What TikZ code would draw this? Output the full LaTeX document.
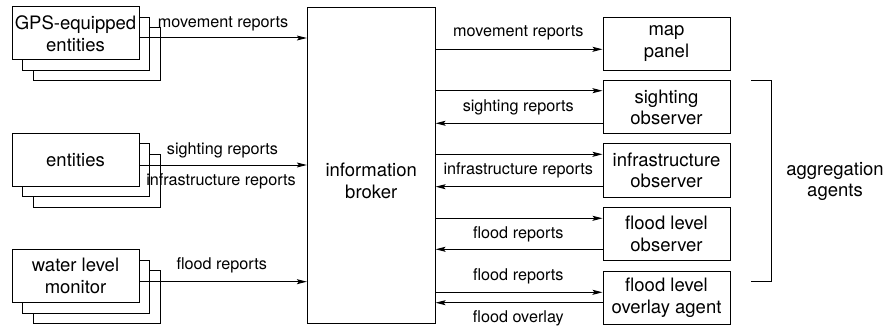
\documentclass[tikz,border=0pt]{standalone}
\usepackage{fontspec}
\setmainfont{TeX Gyre Heros}
\usetikzlibrary{arrows.meta,calc}
\begin{document}
\begin{tikzpicture}[x=1pt,y=-1pt,
  box/.style={draw, line width=1pt, fill=white, minimum width=127pt, minimum height=53pt, inner sep=0pt, align=center, font=\fontsize{18.5}{21.5}\selectfont},
  txt/.style={inner sep=0pt, align=center, font=\fontsize{18.5}{21.5}\selectfont},
  lbl/.style={inner sep=0pt, font=\fontsize{16.2}{19}\selectfont},
  arr/.style={line width=1pt, -{Stealth[length=10pt,width=5pt,inset=2pt]}},
  plain/.style={line width=1pt}]
\useasboundingbox (0,0) rectangle (890,331);

% left stacks
\node[box] (gpsC) at (96.5,54) {};
\node[box] (gpsB) at (86,43.8) {};
\node[box] (gps) at (75.5,33.5) {GPS-equipped\\entities};

\node[box] (entC) at (96.5,181) {};
\node[box] (entB) at (86,170.3) {};
\node[box] (ent) at (75.5,160) {entities};

\node[box] (watC) at (96.5,297) {};
\node[box] (watB) at (86,286.5) {};
\node[box] (wat) at (75.5,275.8) {water level\\monitor};

% broker
\node[box, minimum width=127.7pt, minimum height=316pt] (broker) at (371.2,165.3) {};
\node[txt] (brokertxt) at (371.2,181) {information\\broker};

% right boxes
\node[box] (map) at (666.5,43.7) {map\\panel};
\node[box] (sight) at (666.5,107.3) {sighting\\observer};
\node[box] (infra) at (666.5,170.5) {infrastructure\\observer};
\node[box] (flood) at (666.5,233.7) {flood level\\observer};
\node[box] (over) at (666.5,297.5) {flood level\\overlay agent};

% left arrows
\coordinate (g1) at ($(gps.east)+(0,4.5)$);
\draw[arr] (g1) -- (g1 -| broker.west);
\coordinate (e1) at ($(ent.east)+(0,5)$);
\draw[arr] (e1) -- (e1 -| broker.west);
\coordinate (w1) at ($(wat.east)+(0,5.9)$);
\draw[arr] (w1) -- (w1 -| broker.west);

\node[lbl] (l1) at (223,24) {movement reports};
\node[lbl] (l2) at (222.5,150) {sighting reports};
\node[lbl] (l3) at (221,181.7) {infrastructure reports};
\node[lbl] (l4) at (221.7,265.7) {flood reports};

% right arrows
\coordinate (m1) at ($(map.west)+(0,5.6)$);
\draw[arr] (m1 -| broker.east) -- (m1);
\coordinate (s1) at ($(sight.west)+(0,-16.6)$);
\coordinate (s2) at ($(sight.west)+(0,16)$);
\draw[arr] (s1 -| broker.east) -- (s1);
\draw[arr] (s2) -- (s2 -| broker.east);
\coordinate (i1) at ($(infra.west)+(0,-16.2)$);
\coordinate (i2) at ($(infra.west)+(0,16.2)$);
\draw[arr] (i1 -| broker.east) -- (i1);
\draw[arr] (i2) -- (i2 -| broker.east);
\coordinate (f1) at ($(flood.west)+(0,-15.4)$);
\coordinate (f2) at ($(flood.west)+(0,15.6)$);
\draw[arr] (f1 -| broker.east) -- (f1);
\draw[arr] (f2) -- (f2 -| broker.east);
\coordinate (o1) at ($(over.west)+(0,-5.2)$);
\coordinate (o2) at ($(over.west)+(0,5.2)$);
\draw[arr] (o1 -| broker.east) -- (o1);
\draw[arr] (o2) -- (o2 -| broker.east);

\node[lbl] (r1) at (518.3,33.3) {movement reports};
\node[lbl] (r2) at (518.3,107.3) {sighting reports};
\node[lbl] (r3) at (518.3,170.7) {infrastructure reports};
\node[lbl] (r4) at (518.3,234.7) {flood reports};
\node[lbl] (r5) at (518.3,276) {flood reports};
\node[lbl] (r6) at (518.3,318.3) {flood overlay};

% bracket
\node[txt] (agg) at (835,181.7) {aggregation\\agents};
\coordinate (bt) at (751.3,80.7);
\coordinate (bb) at (751.3,281);
\draw[plain] (bt) -- (bt -| 771.7,0) -- (bb -| 771.7,0) -- (bb);
\end{tikzpicture}
\end{document}
